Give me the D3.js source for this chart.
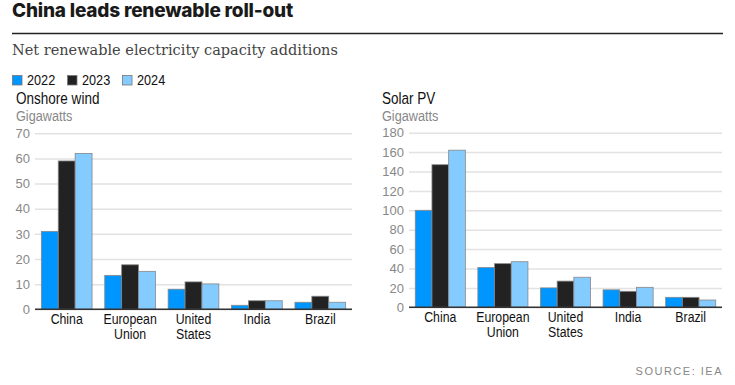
<!DOCTYPE html>
<html>
<head>
<meta charset="utf-8">
<script src="https://cdn.jsdelivr.net/npm/d3@7"></script>
<style>
  body { margin: 0; background: #fff; }
  svg text { font-family: "Liberation Sans", Arial, sans-serif; }
</style>
</head>
<body>
<div id="chart"></div>
<script>
// categories and series
const countries = ['China', 'European Union', 'United States', 'India', 'Brazil'];
const years = ['2022', '2023', '2024'];
const yearColors = ['#0096ff', '#222222', '#84cbff'];

const wind2022 = [31, 13.5, 8, 1.6, 2.8];
const wind2023 = [59, 17.7, 10.9, 3.4, 5.2];
const wind2024 = [62, 15.1, 10.1, 3.4, 2.8];
const windTicks = [0, 10, 20, 30, 40, 50, 60, 70];

const solar2022 = [100, 41, 20, 18, 10.3];
const solar2023 = [147, 45, 27, 16.5, 10.3];
const solar2024 = [162, 47, 31, 20.6, 7.5];
const solarTicks = [0, 20, 40, 60, 80, 100, 120, 140, 160, 180];

// no narrow font installed, so squeeze Liberation Sans horizontally
const NARROW = 0.82;

const svg = d3.select('#chart')
  .append('svg')
  .attr('width', 735)
  .attr('height', 385);

function narrowText (parent, x, y, str, size, color) {
  return parent.append('text')
    .attr('transform', `translate(${x}, ${y}) scale(${NARROW}, 1)`)
    .style('font-size', size + 'px')
    .attr('fill', color)
    .text(str);
}

// header
svg.append('text')
  .attr('x', 12).attr('y', 17)
  .style('font-family', 'Inter, "Liberation Sans", sans-serif')
  .style('font-weight', 800)
  .style('font-size', '19px')
  .style('letter-spacing', '-0.2px')
  .attr('fill', '#1a1a1a')
  .text('China leads renewable roll-out');

svg.append('line')
  .attr('x1', 12).attr('x2', 723)
  .attr('y1', 33.5).attr('y2', 33.5)
  .attr('stroke', '#222').attr('stroke-width', 1.5);

svg.append('text')
  .attr('x', 12).attr('y', 55)
  .style('font-family', '"DejaVu Serif", "Liberation Serif", serif')
  .style('font-size', '14.5px')
  .attr('fill', '#444')
  .text('Net renewable electricity capacity additions');

// legend
const legend = svg.append('g').attr('transform', 'translate(12, 75)');
let lx = 0;
years.forEach((yr, i) => {
  legend.append('rect')
    .attr('x', lx + 0.5).attr('y', 0.5)
    .attr('width', 9.5).attr('height', 9.5)
    .attr('fill', yearColors[i])
    .attr('stroke', '#777').attr('stroke-width', 0.8);
  narrowText(legend, lx + 15, 10, yr, 15.5, '#111');
  lx += 55;
});

function drawPanel (opt) {
  const g = svg.append('g');
  const series = [opt.s2022, opt.s2023, opt.s2024];

  narrowText(g, opt.titleX, 104, opt.title, 16.5, '#111');
  narrowText(g, opt.titleX, 120.5, 'Gigawatts', 15.5, '#888');

  const y = d3.scaleLinear()
    .domain([0, opt.max])
    .range([opt.bottom, opt.top]);

  const x0 = d3.scaleBand()
    .domain(countries)
    .range([opt.left, opt.right])
    .paddingInner(0.2)
    .paddingOuter(0.1);

  const x1 = d3.scaleBand()
    .domain(years)
    .range([0, x0.bandwidth()]);

  // gridlines and tick labels
  const yAxis = g.append('g')
    .attr('transform', `translate(${opt.left}, 0)`)
    .call(d3.axisLeft(y).tickValues(opt.ticks).tickSize(-(opt.right - opt.left)).tickPadding(5));
  yAxis.select('.domain').remove();
  yAxis.selectAll('.tick line')
    .attr('stroke', '#e2e2e2').attr('stroke-width', 1.5);
  yAxis.selectAll('.tick text')
    .style('font-size', '13px')
    .style('font-family', '"Liberation Sans", Arial, sans-serif')
    .attr('fill', '#888');

  // bars
  const groups = g.selectAll('.country')
    .data(countries)
    .join('g')
    .attr('transform', d => `translate(${x0(d)}, 0)`);

  groups.selectAll('rect')
    .data((d, ci) => years.map((yr, yi) => ({ yr, yi, v: series[yi][ci] })))
    .join('rect')
    .attr('x', d => x1(d.yr))
    .attr('y', d => y(d.v))
    .attr('width', x1.bandwidth())
    .attr('height', d => y(0) - y(d.v))
    .attr('fill', d => yearColors[d.yi])
    .attr('stroke', '#888')
    .attr('stroke-width', 0.8);

  // baseline
  g.append('line')
    .attr('x1', opt.left).attr('x2', opt.right)
    .attr('y1', y(0)).attr('y2', y(0))
    .attr('stroke', '#333').attr('stroke-width', 1.5);

  // category labels
  const xAxis = g.append('g')
    .attr('transform', `translate(0, ${opt.bottom})`)
    .call(d3.axisBottom(x0).tickSize(0).tickPadding(0));
  xAxis.select('.domain').remove();
  xAxis.selectAll('.tick text').each(function (d) {
    const t = d3.select(this);
    const words = d.split(' ');
    t.text(null)
      .attr('y', 0)
      .attr('dy', null)
      .attr('transform', `scale(${NARROW}, 1)`)
      .style('font-size', '15px')
      .attr('fill', '#111');
    words.forEach((w, i) => {
      t.append('tspan')
        .attr('x', 0)
        .attr('y', 15 + i * 15)
        .text(w);
    });
  });
}

drawPanel({
  title: 'Onshore wind', titleX: 16,
  s2022: wind2022, s2023: wind2023, s2024: wind2024,
  max: 70, ticks: windTicks,
  left: 35, right: 352, top: 133.3, bottom: 309.3
});

drawPanel({
  title: 'Solar PV', titleX: 382,
  s2022: solar2022, s2023: solar2023, s2024: solar2024,
  max: 180, ticks: solarTicks,
  left: 409, right: 722, top: 132.7, bottom: 307.3
});

svg.append('text')
  .attr('x', 723).attr('y', 375)
  .attr('text-anchor', 'end')
  .style('font-size', '11px')
  .style('letter-spacing', '1.5px')
  .attr('fill', '#888')
  .text('SOURCE: IEA');
</script>
</body>
</html>
